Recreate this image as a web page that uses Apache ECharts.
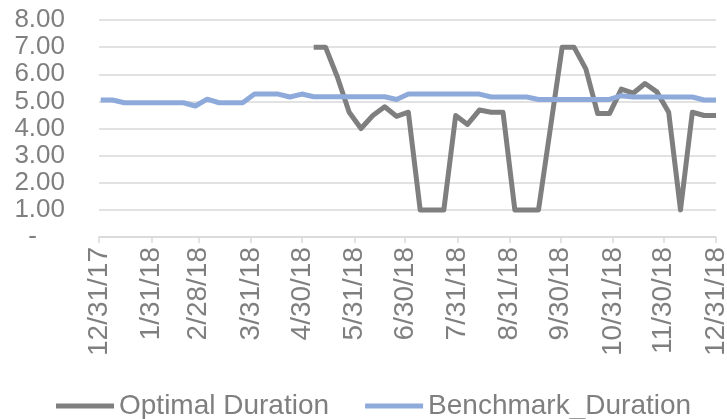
<!DOCTYPE html>
<html>
<head>
<meta charset="utf-8">
<script src="https://cdn.jsdelivr.net/npm/echarts@6/dist/echarts.min.js"></script>
<style>html,body{margin:0;padding:0;background:#fff;}#c{width:727px;height:419px;}</style>
</head>
<body>
<div id="c"></div>
<script>
// Weekly observation dates
const dates = [
  '2018-01-01','2018-01-08','2018-01-15','2018-01-22','2018-01-29',
  '2018-02-05','2018-02-12','2018-02-19','2018-02-26',
  '2018-03-05','2018-03-12','2018-03-19','2018-03-26',
  '2018-04-02','2018-04-09','2018-04-16','2018-04-23','2018-04-30',
  '2018-05-07','2018-05-14','2018-05-21','2018-05-28',
  '2018-06-04','2018-06-11','2018-06-18','2018-06-25',
  '2018-07-02','2018-07-09','2018-07-16','2018-07-23','2018-07-30',
  '2018-08-06','2018-08-13','2018-08-20','2018-08-27',
  '2018-09-03','2018-09-10','2018-09-17','2018-09-24',
  '2018-10-01','2018-10-08','2018-10-15','2018-10-22','2018-10-29',
  '2018-11-05','2018-11-12','2018-11-19','2018-11-26',
  '2018-12-03','2018-12-10','2018-12-17','2018-12-24','2018-12-31'
];
const optimalDuration = [
  null,null,null,null,null,null,null,null,null,null,null,null,null,null,null,null,null,null,
  7.0,7.0,5.9,4.6,4.0,4.48,4.8,4.45,4.6,1.0,1.0,1.0,4.48,4.15,4.68,4.6,4.6,1.0,1.0,1.0,
  4.0,7.0,7.0,6.2,4.55,4.55,5.45,5.3,5.66,5.35,4.6,1.0,4.6,4.48,4.48
];
const benchmarkDuration = [
  5.05,5.05,4.95,4.95,4.95,4.95,4.95,4.95,4.83,5.08,4.95,4.95,4.95,5.27,5.27,5.27,5.16,5.27,
  5.17,5.17,5.17,5.17,5.17,5.17,5.17,5.07,5.27,5.27,5.27,5.27,5.27,5.27,5.27,5.16,5.16,5.16,
  5.16,5.07,5.07,5.07,5.07,5.07,5.07,5.07,5.21,5.16,5.16,5.16,5.16,5.16,5.16,5.05,5.05
];
// Axis tick labels (month ends)
const tickDates = [
  '2017-12-31','2018-01-31','2018-02-28','2018-03-31','2018-04-30','2018-05-31',
  '2018-06-30','2018-07-31','2018-08-31','2018-09-30','2018-10-31','2018-11-30','2018-12-31'
];
const seriesNames = ['Optimal Duration', 'Benchmark_Duration'];

function ts(s) { const p = s.split('-').map(Number); return Date.UTC(p[0], p[1]-1, p[2]); }
const tickTs = tickDates.map(ts);
const FONT = "'Liberation Sans', Arial, sans-serif";
const TXT = '#7f7f7f';
const GRIDC = '#d9d9d9';

const chart = echarts.init(document.getElementById('c'), null, {renderer: 'canvas'});
chart.setOption({
  animation: false,
  backgroundColor: '#ffffff',
  grid: {left: 99, right: 11, top: 20, bottom: 182, containLabel: false, outerBoundsMode: 'none'},
  xAxis: {
    type: 'value',
    min: tickTs[0],
    max: tickTs[tickTs.length - 1],
    axisLine: {show: true, lineStyle: {color: GRIDC, width: 1.5}},
    axisTick: {show: true, length: 6, lineStyle: {color: GRIDC, width: 1.5}, customValues: tickTs},
    axisLabel: {
      customValues: tickTs,
      rotate: 90,
      margin: 10,
      color: TXT,
      fontSize: 28,
      fontFamily: FONT,
      hideOverlap: false,
      showMinLabel: true,
      showMaxLabel: true,
      formatter: function (v) {
        const d = new Date(v);
        return (d.getUTCMonth()+1) + '/' + d.getUTCDate() + '/' + String(d.getUTCFullYear()).slice(2);
      }
    },
    splitLine: {show: false}
  },
  yAxis: {
    type: 'value',
    min: 0, max: 8, interval: 1,
    axisLine: {show: false},
    axisTick: {show: false},
    splitLine: {show: true, lineStyle: {color: GRIDC, width: 1.5}},
    axisLabel: {
      color: TXT, fontSize: 26, lineHeight: 22, fontFamily: FONT, margin: 34,
      showMinLabel: true, showMaxLabel: true, hideOverlap: false,
      formatter: function (v) { return v === 0 ? '{d|-}' : v.toFixed(2); },
      rich: {d: {color: TXT, fontSize: 26, lineHeight: 22, fontFamily: FONT, padding: [0, 28, 0, 0]}}
    }
  },
  legend: {
    left: 51, top: 387,
    icon: 'rect',
    itemWidth: 58, itemHeight: 5, itemGap: 36,
    textStyle: {color: TXT, fontSize: 28, fontFamily: FONT},
    data: seriesNames
  },
  series: [
    {
      name: seriesNames[0], type: 'line', showSymbol: false, symbol: 'none',
      data: dates.map((d, i) => [ts(d), optimalDuration[i]]),
      lineStyle: {color: '#7f7f7f', width: 5, join: 'round'},
      itemStyle: {color: '#7f7f7f'}
    },
    {
      name: seriesNames[1], type: 'line', showSymbol: false, symbol: 'none',
      data: dates.map((d, i) => [ts(d), benchmarkDuration[i]]),
      lineStyle: {color: '#8eaadb', width: 5, join: 'round'},
      itemStyle: {color: '#8eaadb'}
    }
  ]
});
</script>
</body>
</html>
